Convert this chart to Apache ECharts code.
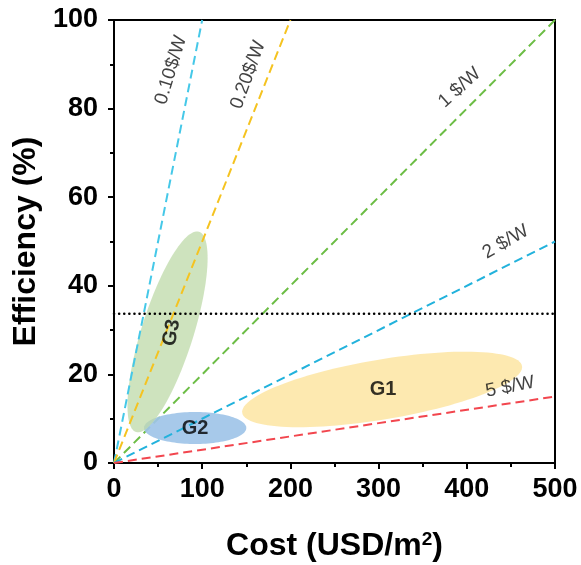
<!DOCTYPE html>
<html><head><meta charset="utf-8">
<script src="https://cdn.jsdelivr.net/npm/echarts@6/dist/echarts.min.js"></script>
<style>html,body{margin:0;padding:0;background:#fff}#c{width:581px;height:565px}</style>
</head><body><div id="c"></div>
<script>
// ---- data ----
const xTicks = [0, 100, 200, 300, 400, 500];
const yTicks = [0, 20, 40, 60, 80, 100];
const lineNames = ['0.10$/W', '0.20$/W', '1 $/W', '2 $/W', '5 $/W'];
const lineStarts = [[0, 0], [0, 0], [0, 0], [0, 0], [0, 0]];
const lineEnds = [[100, 100], [200, 100], [500, 100], [500, 50], [500, 15]];
const lineLabelPos = [[64.6, 88.7], [152, 87.6], [392, 84.7], [444, 49.9], [449, 17.2]];
const limitEff = 33.7;
const groupNames = ['G1', 'G2', 'G3'];
const groupCenters = [[304, 16.6], [92, 7.9], [60.7, 29.6]];
const groupAxisEnds = [[462.6, 21.9], [150, 7.9], [96.4, 52.2]];
const groupLabelPos = [[305, 16.5], [92, 7.9], [65.4, 29.4]];

// ---- styles ----
const lineColors = ['#45c8e8', '#f5c320', '#6cbd45', '#22b2dc', '#f2464e'];
const lineZ = [3, 3, 1, 3, 3];
const lineLabelRot = [73, 70, 42, 30, 11];
const groupColors = ['rgba(252,226,150,0.75)', 'rgba(160,196,232,0.92)', 'rgba(190,218,168,0.75)'];
const groupMinorPx = [30, 16, 26];
const groupLabelRot = [0, 0, 80];
const FONT = 'Liberation Sans, Arial, sans-serif';

const chart = echarts.init(document.getElementById('c'));
const series = [];

// ellipses
series.push({
  type: 'custom',
  z: 2,
  data: groupNames.map((n, i) => [groupCenters[i][0], groupCenters[i][1], groupAxisEnds[i][0], groupAxisEnds[i][1], i]),
  renderItem: function (params, api) {
    const i = api.value(4);
    const c = api.coord([api.value(0), api.value(1)]);
    const e = api.coord([api.value(2), api.value(3)]);
    const a = Math.hypot(e[0] - c[0], e[1] - c[1]);
    const th = Math.atan2(e[1] - c[1], e[0] - c[0]);
    const b = groupMinorPx[i];
    const pts = [];
    for (let k = 0; k < 120; k++) {
      const t = k / 120 * Math.PI * 2;
      const px = a * Math.cos(t), py = b * Math.sin(t);
      pts.push([c[0] + px * Math.cos(th) - py * Math.sin(th), c[1] + px * Math.sin(th) + py * Math.cos(th)]);
    }
    return { type: 'polygon', shape: { points: pts }, style: { fill: groupColors[i] } };
  },
  silent: true
});

// cost lines
lineNames.forEach((n, i) => {
  series.push({
    type: 'line', z: lineZ[i], symbol: 'none', silent: true,
    data: [lineStarts[i], lineEnds[i]],
    lineStyle: { color: lineColors[i], width: 2, type: [9, 5] }
  });
});

// limit dotted line
series.push({
  type: 'line', z: 4, symbol: 'none', silent: true,
  data: [[0, limitEff], [500, limitEff]],
  lineStyle: { color: '#000', width: 2.5, type: [0.1, 5], cap: 'round' }
});

// line labels
series.push({
  type: 'scatter', z: 5, symbolSize: 0, silent: true,
  data: lineNames.map((n, i) => ({
    value: lineLabelPos[i], name: n,
    label: { rotate: lineLabelRot[i] }
  })),
  label: {
    show: true, position: 'inside', formatter: p => p.name,
    fontFamily: FONT, fontSize: 19, color: '#111'
  }
});

// group labels
series.push({
  type: 'scatter', z: 6, symbolSize: 0, silent: true,
  data: groupNames.map((n, i) => ({
    value: groupLabelPos[i], name: n,
    label: { rotate: groupLabelRot[i] }
  })),
  label: {
    show: true, position: 'inside', formatter: p => p.name,
    fontFamily: FONT, fontSize: 20, fontWeight: 'bold', color: '#000'
  }
});

chart.setOption({
  animation: false,
  grid: { left: 114, right: 26, top: 20, bottom: 102, outerBoundsMode: 'none', containLabel: false,
    show: true, borderColor: '#000', borderWidth: 2, backgroundColor: 'transparent' },
  xAxis: {
    type: 'value', min: xTicks[0], max: xTicks[xTicks.length - 1], interval: 100,
    name: 'Cost (USD/m{sup|2})', nameLocation: 'middle', nameGap: 67,
    nameTextStyle: { fontFamily: FONT, fontSize: 32, fontWeight: 'bold', color: '#000',
      rich: { sup: { fontFamily: FONT, fontSize: 19, fontWeight: 'bold', color: '#000', verticalAlign: 'top', padding: [0, 0, 14, 0] } } },
    axisLine: { show: true, lineStyle: { color: '#000', width: 2 } },
    axisTick: { show: true, length: 6, inside: false, lineStyle: { color: '#000', width: 2 } },
    minorTick: { show: true, splitNumber: 2, length: 4, lineStyle: { color: '#000', width: 2 } },
    splitLine: { show: false },
    axisLabel: { fontFamily: FONT, fontSize: 27, fontWeight: 'bold', color: '#000', margin: 13 }
  },
  yAxis: {
    type: 'value', min: yTicks[0], max: yTicks[yTicks.length - 1], interval: 20,
    name: 'Efficiency (%)', nameLocation: 'middle', nameGap: 66,
    nameTextStyle: { fontFamily: FONT, fontSize: 32, fontWeight: 'bold', color: '#000' },
    axisLine: { show: true, lineStyle: { color: '#000', width: 2 } },
    axisTick: { show: true, length: 6, inside: false, lineStyle: { color: '#000', width: 2 } },
    minorTick: { show: true, splitNumber: 2, length: 4, lineStyle: { color: '#000', width: 2 } },
    splitLine: { show: false },
    axisLabel: { fontFamily: FONT, fontSize: 27, fontWeight: 'bold', color: '#000', margin: 16 }
  },
  series: series
});
</script></body></html>
